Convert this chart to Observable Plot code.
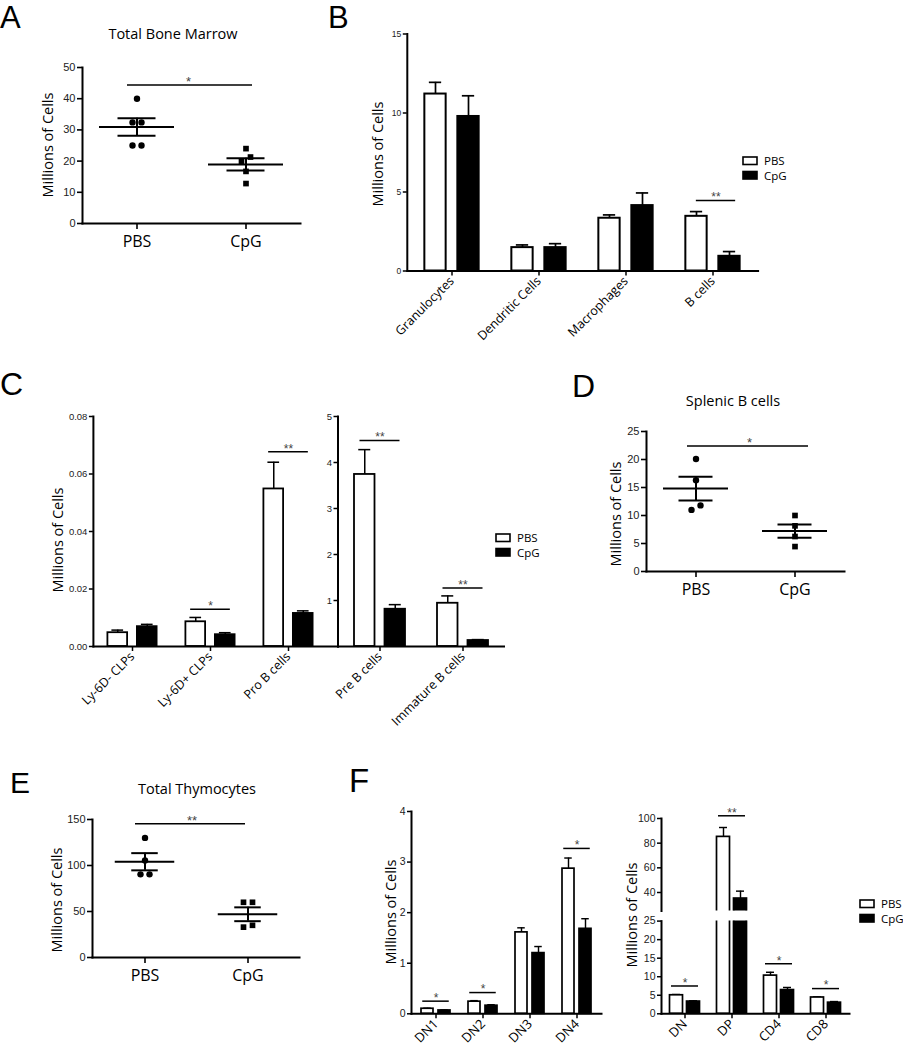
<!DOCTYPE html>
<html><head><meta charset="utf-8">
<script src="https://cdn.jsdelivr.net/npm/d3@7"></script>
<script src="https://cdn.jsdelivr.net/npm/@observablehq/plot@0.6"></script>
<style>
body{margin:0;background:#fff;}
#fig{position:relative;width:903px;height:1050px;overflow:hidden;background:#fff;}
#fig svg{position:absolute;}
</style></head><body><div id="fig"></div>
<script>
// ---------------- data ----------------
const groups = ["PBS", "CpG"];

// A: Total Bone Marrow (millions of cells)
const bmPBS = [40, 32.4, 32.4, 25, 25];
const bmCpG = [24, 21.3, 19.9, 16.7, 12.8];
const bmSig = 44.4;
const bmTicks = [0, 10, 20, 30, 40, 50];

// B: bone marrow populations
const bCats = ["Granulocytes", "Dendritic Cells", "Macrophages", "B cells"];
const bPbsMean = [11.2, 1.48, 3.34, 3.46];
const bPbsSem = [0.74, 0.17, 0.21, 0.30];
const bCpgMean = [9.78, 1.48, 4.14, 0.93];
const bCpgSem = [1.31, 0.25, 0.80, 0.30];
const bSigCats = ["B cells"];
const bSigY = [4.46];
const bSigLab = ["**"];
const bTicks = [0, 5, 10, 15];

// C: B-cell progenitors (left axis small, right axis large)
const cCatsL = ["Ly-6D- CLPs", "Ly-6D+ CLPs", "Pro B cells"];
const cPbsMeanL = [0.0048, 0.0086, 0.0548];
const cPbsSemL = [0.0009, 0.0015, 0.0093];
const cCpgMeanL = [0.0069, 0.0041, 0.0115];
const cCpgSemL = [0.0008, 0.0007, 0.0009];
const cSigCatsL = ["Ly-6D+ CLPs", "Pro B cells"];
const cSigYL = [0.013, 0.0677];
const cSigLabL = ["*", "**"];
const cTicksL = [0, 0.02, 0.04, 0.06, 0.08];
const cCatsR = ["Pre B cells", "Immature B cells"];
const cPbsMeanR = [3.74, 0.94];
const cPbsSemR = [0.54, 0.16];
const cCpgMeanR = [0.81, 0.13];
const cCpgSemR = [0.10, 0.02];
const cSigCatsR = ["Pre B cells", "Immature B cells"];
const cSigYR = [4.48, 1.27];
const cSigLabR = ["**", "**"];
const cTicksR = [1, 2, 3, 4, 5];

// D: Splenic B cells
const spPBS = [20.1, 16.3, 11.8, 11.0];
const spCpG = [10, 8.15, 6.25, 4.45];
const spSig = 22.4;
const spTicks = [0, 5, 10, 15, 20, 25];

// E: Total Thymocytes
const thPBS = [130, 105.5, 90.4, 90.4];
const thCpG = [60, 60, 35, 33];
const thSig = 145.3;
const thTicks = [0, 50, 100, 150];

// F: thymocyte subsets
const fCatsL = ["DN1", "DN2", "DN3", "DN4"];
const fPbsMeanL = [0.10, 0.24, 1.61, 2.87];
const fPbsSemL = [0.01, 0.02, 0.09, 0.21];
const fCpgMeanL = [0.066, 0.16, 1.20, 1.68];
const fCpgSemL = [0.01, 0.02, 0.13, 0.20];
const fSigCatsL = ["DN1", "DN2", "DN4"];
const fSigYL = [0.25, 0.42, 3.27];
const fSigLabL = ["*", "*", "*"];
const fTicksL = [0, 1, 2, 3, 4];
const fCatsR = ["DN", "DP", "CD4", "CD8"];
const fPbsMeanR = [5.0, 85.1, 10.3, 4.4];
const fPbsSemR = [0.2, 7.6, 0.9, 0.15];
const fCpgMeanR = [3.3, 35.1, 6.4, 3.0];
const fCpgSemR = [0.2, 6.0, 0.7, 0.3];
const fSigCatsR = ["DN", "DP", "CD4", "CD8"];
const fSigYR = [7.5, 102.2, 13.5, 6.8];
const fSigLabR = ["*", "**", "*", "*"];
const fTicksRLow = [0, 5, 10, 15, 20, 25];
const fTicksRHigh = [40, 60, 80, 100];
const fBreak = 25;

// ---------------- helpers ----------------
const fig = document.getElementById("fig");
const SANS = "'Liberation Sans', Arial, sans-serif";
const HUM = "'Open Sans', 'Noto Sans', sans-serif";
const AX = 2;
const intFmt = d3.format("d");
function place(svg, left, top) {
  svg.style.left = left + "px";
  svg.style.top = top + "px";
  fig.appendChild(svg);
}
const style = {background: "transparent", overflow: "visible", fontFamily: SANS, fontSize: "10px", color: "#000"};

function scatterPanel(c) {
  const pts = [];
  [[groups[0], c.pbs], [groups[1], c.cpg]].forEach(([g, vals]) => {
    const tol = c.ymax * 0.045;
    const sorted = vals.map(v => v).sort((a, b) => b - a);
    const clusters = [];
    sorted.forEach(v => {
      const cl = clusters[clusters.length - 1];
      if (cl && Math.abs(cl[cl.length - 1] - v) < tol) cl.push(v); else clusters.push([v]);
    });
    clusters.forEach(cl => cl.forEach((v, k) => pts.push({group: g, value: v, off: ((cl.length - 1) / 2 - k) * 9})));
  });
  const stats = [[groups[0], c.pbs], [groups[1], c.cpg]].map(([g, v]) => {
    const m = d3.mean(v), s = d3.deviation(v) / Math.sqrt(v.length);
    return {group: g, mean: m, lo: m - s, hi: m + s};
  });
  const step = (c.width - c.ml - c.mr) / 2;
  const offs = [...new Set(pts.map(d => d.off))];
  const dots = offs.flatMap(o => [
    Plot.dot(pts.filter(d => d.off === o && d.group === groups[0]), {x: "group", y: "value", dx: o, r: 3.2, fill: "#000", symbol: "circle"}),
    Plot.dot(pts.filter(d => d.off === o && d.group === groups[1]), {x: "group", y: "value", dx: o, r: 3.2, fill: "#000", symbol: "square"})
  ]);
  const svg = Plot.plot({
    width: c.width, height: c.height,
    marginLeft: c.ml, marginRight: c.mr, marginTop: c.mt, marginBottom: c.mb,
    style,
    x: {type: "band", domain: groups, padding: 0},
    y: {domain: [0, c.ymax]},
    marks: [
      Plot.frame({anchor: "left", stroke: "#000", strokeWidth: AX}),
      Plot.frame({anchor: "bottom", stroke: "#000", strokeWidth: AX}),
      Plot.axisY({ticks: c.ticks, tickFormat: intFmt, tickSize: 5, tickPadding: 2, fontSize: 11, fill: "#222", strokeWidth: 1.6, label: null}),
      Plot.axisX({tickSize: 6, tickPadding: 6, fontSize: 16, fontFamily: HUM, fill: "#000", strokeWidth: 1.6, label: null}),
      ...dots,
      Plot.tickY(stats, {x: "group", y: "mean", insetLeft: (step - c.meanW) / 2, insetRight: (step - c.meanW) / 2, stroke: "#000", strokeWidth: 2}),
      Plot.tickY(stats, {x: "group", y: "hi", insetLeft: (step - c.semW) / 2, insetRight: (step - c.semW) / 2, stroke: "#000", strokeWidth: 2}),
      Plot.tickY(stats, {x: "group", y: "lo", insetLeft: (step - c.semW) / 2, insetRight: (step - c.semW) / 2, stroke: "#000", strokeWidth: 2}),
      Plot.ruleX(stats, {x: "group", y1: "lo", y2: "hi", stroke: "#000", strokeWidth: 2}),
      Plot.ruleY([c.sig], {insetLeft: c.sigIL, insetRight: c.sigIR, stroke: "#000", strokeWidth: 1.6}),
      Plot.text([c.sigLab], {y: () => c.sig, text: d => d, dx: c.starDx, dy: -3, fontSize: 13, fill: "#444", fontFamily: SANS})
    ]
  });
  place(svg, c.left, c.top);
}

function barPanel(c) {
  const x0 = c.xrange ? c.xrange[0] : c.ml;
  const x1 = c.xrange ? c.xrange[1] : c.width - c.mr;
  const step = (x1 - x0) / c.cats.length;
  const pbs = c.cats.map((k, i) => ({cat: k, mean: c.pbsM[i], top: c.pbsM[i] + c.pbsE[i]}));
  const cpg = c.cats.map((k, i) => ({cat: k, mean: c.cpgM[i], top: c.cpgM[i] + c.cpgE[i]}));
  const sig = c.sigCats.map((k, i) => ({cat: k, y: c.sigY[i], label: c.sigLab[i]})).filter(c.keepSig || (() => true));
  const keep = c.keep || (() => true), keepErr = c.keepErr || (() => true);
  const bi = (step - c.barW) / 2, ci = (step - c.capW) / 2, si = (step - c.sigW) / 2;
  const bw = c.bw || 2;
  const marks = [];
  [[pbs, -c.off, "#fff"], [cpg, c.off, "#000"]].forEach(([rows, dx, fill]) => {
    const e = rows.filter(keepErr);
    marks.push(Plot.ruleX(e, {x: "cat", y1: "mean", y2: "top", dx, stroke: "#000", strokeWidth: bw * 0.85}));
    marks.push(Plot.tickY(e, {x: "cat", y: "top", dx, insetLeft: ci, insetRight: ci, stroke: "#000", strokeWidth: bw * 0.85}));
    marks.push(Plot.barY(rows.filter(keep), {x: "cat", y: "mean", dx, insetLeft: bi, insetRight: bi, fill, stroke: "#000", strokeWidth: bw, clip: !!c.clip}));
  });
  marks.push(Plot.tickY(sig, {x: "cat", y: "y", dx: c.sigDx || 0, insetLeft: si, insetRight: si, stroke: "#000", strokeWidth: 1.5}));
  marks.push(Plot.text(sig, {x: "cat", y: "y", text: "label", dx: c.sigDx || 0, dy: -3, fontSize: 12, fill: "#444", fontFamily: SANS}));
  marks.push(Plot.frame({anchor: "left", stroke: "#000", strokeWidth: AX}));
  marks.push(Plot.axisY({ticks: c.ticks, tickFormat: c.yfmt || intFmt, tickSize: 4, tickPadding: 2, fontSize: c.yFont, fill: "#222", strokeWidth: 1.5, label: null}));
  if (c.showX !== false) {
    marks.push(Plot.frame({anchor: "bottom", stroke: "#000", strokeWidth: AX}));
    marks.push(Plot.axisX({tickSize: 5, tickPadding: 3, tickRotate: -45, fontSize: c.xFont, fontFamily: HUM, fill: "#000", strokeWidth: 1.5, label: null}));
  }
  const svg = Plot.plot({
    width: c.width, height: c.height,
    marginLeft: c.ml, marginRight: c.mr, marginTop: c.mt, marginBottom: c.mb,
    style,
    x: {type: "band", domain: c.cats, padding: 0, range: [x0, x1], axis: c.showX === false ? null : undefined},
    y: {domain: c.ydomain},
    marks
  });
  place(svg, c.left, c.top);
}

// ---------------- panels ----------------
// A
scatterPanel({pbs: bmPBS, cpg: bmCpG, ymax: 50, ticks: bmTicks, sig: bmSig, sigLab: "*",
  left: 0, top: 0, width: 310, height: 270, ml: 82, mr: 10, mt: 67, mb: 47,
  meanW: 75, semW: 38, sigIL: 45, sigIR: 48, starDx: -3});
// D
scatterPanel({pbs: spPBS, cpg: spCpG, ymax: 25, ticks: spTicks, sig: spSig, sigLab: "*",
  left: 560, top: 370, width: 294, height: 250, ml: 86, mr: 10, mt: 61, mb: 49,
  meanW: 65, semW: 34, sigIL: 41, sigIR: 36, starDx: 4});
// E
scatterPanel({pbs: thPBS, cpg: thCpG, ymax: 150, ticks: thTicks, sig: thSig, sigLab: "**",
  left: 0, top: 750, width: 310, height: 260, ml: 92, mr: 11, mt: 69, mb: 53,
  meanW: 60, semW: 27, sigIL: 43, sigIR: 54, starDx: -4});

// B
barPanel({cats: bCats, pbsM: bPbsMean, pbsE: bPbsSem, cpgM: bCpgMean, cpgE: bCpgSem,
  sigCats: bSigCats, sigY: bSigY, sigLab: bSigLab, ydomain: [0, 15], ticks: bTicks,
  left: 330, top: 0, width: 440, height: 340, ml: 76.8, mr: 12.4, mt: 33.5, mb: 69.5,
  barW: 22, off: 16.5, capW: 13, sigW: 40, sigDx: 3, yFont: 8.5, xFont: 12.5});

// C left
barPanel({cats: cCatsL, pbsM: cPbsMeanL, pbsE: cPbsSemL, cpgM: cCpgMeanL, cpgE: cCpgSemL,
  sigCats: cSigCatsL, sigY: cSigYL, sigLab: cSigLabL, ydomain: [0, 0.08], ticks: cTicksL, yfmt: d3.format(".2f"),
  left: 0, top: 340, width: 340, height: 400, ml: 92.9, mr: 2.5, mt: 76, mb: 94, xrange: [92.9, 327.8],
  barW: 20, off: 14.75, capW: 12, sigW: 40, sigDx: 0, yFont: 9.5, xFont: 12.5, bw: 1.8});
// C right
barPanel({cats: cCatsR, pbsM: cPbsMeanR, pbsE: cPbsSemR, cpgM: cCpgMeanR, cpgE: cCpgSemR,
  sigCats: cSigCatsR, sigY: cSigYR, sigLab: cSigLabR, ydomain: [0, 5], ticks: cTicksR,
  left: 300, top: 340, width: 220, height: 400, ml: 37.5, mr: 16.5, mt: 76, mb: 94,
  barW: 20.5, off: 15.25, capW: 12, sigW: 40, sigDx: 0, yFont: 9.5, xFont: 12.5, bw: 1.8});

// F left
barPanel({cats: fCatsL, pbsM: fPbsMeanL, pbsE: fPbsSemL, cpgM: fCpgMeanL, cpgE: fCpgSemL,
  sigCats: fSigCatsL, sigY: fSigYL, sigLab: fSigLabL, ydomain: [0, 4], ticks: fTicksL,
  left: 350, top: 760, width: 260, height: 290, ml: 61, mr: 9, mt: 51, mb: 36.7,
  barW: 12.5, off: 8.5, capW: 8, sigW: 27, yFont: 10.5, xFont: 13, bw: 1.7});
// F right, lower segment
barPanel({cats: fCatsR, pbsM: fPbsMeanR, pbsE: fPbsSemR, cpgM: fCpgMeanR, cpgE: fCpgSemR,
  sigCats: fSigCatsR, sigY: fSigYR, sigLab: fSigLabR, ydomain: [0, fBreak], ticks: fTicksRLow,
  keepErr: d => d.top <= fBreak, keepSig: d => d.y <= fBreak, clip: true,
  left: 600, top: 900, width: 260, height: 150, ml: 61, mr: 11, mt: 20.6, mb: 36.7,
  barW: 13, off: 8.5, capW: 8, sigW: 27, yFont: 10.5, xFont: 13, bw: 1.7});
// F right, upper segment
barPanel({cats: fCatsR, pbsM: fPbsMeanR, pbsE: fPbsSemR, cpgM: fCpgMeanR, cpgE: fCpgSemR,
  sigCats: fSigCatsR, sigY: fSigYR, sigLab: fSigLabR, ydomain: [fBreak, 100], ticks: fTicksRHigh,
  keep: d => d.mean > fBreak, keepErr: d => d.top > fBreak, keepSig: d => d.y > fBreak, clip: true, showX: false,
  left: 600, top: 790, width: 260, height: 121, ml: 61, mr: 11, mt: 28, mb: 0.5,
  barW: 13, off: 8.5, capW: 8, sigW: 27, yFont: 10.5, xFont: 13, bw: 1.7});

// ---------------- overlay texts / legends ----------------
const ov = d3.create("svg").attr("width", 903).attr("height", 1050)
  .style("left", "0px").style("top", "0px").style("pointer-events", "none");
const letters = [["A", 0, 28, 31], ["B", 328, 28, 31], ["C", 0, 395, 32], ["D", 572, 397, 32], ["E", 10, 793, 30], ["F", 349, 792, 33]];
ov.selectAll("text.letter").data(letters).join("text").attr("class", "letter")
  .attr("x", d => d[1]).attr("y", d => d[2]).text(d => d[0])
  .attr("font-family", SANS).attr("font-size", d => d[3]).attr("fill", "#000");
const titles = [["Total Bone Marrow", 173, 39], ["Splenic B cells", 733, 406], ["Total Thymocytes", 197, 794]];
ov.selectAll("text.title").data(titles).join("text").attr("class", "title")
  .attr("x", d => d[1]).attr("y", d => d[2]).attr("text-anchor", "middle").text(d => d[0])
  .attr("font-family", HUM).attr("font-size", 14.5).attr("fill", "#000");
const ylabs = [[53, 145], [383, 154], [63, 540], [621, 514], [62, 900], [396, 912], [637, 915]];
ov.selectAll("text.ylab").data(ylabs).join("text").attr("class", "ylab")
  .attr("transform", d => `translate(${d[0]},${d[1]}) rotate(-90)`).attr("text-anchor", "middle")
  .text("Millions of Cells").attr("font-family", HUM).attr("font-size", 14.5).attr("fill", "#000");
const legends = [[743, 157], [496, 534], [860, 900]];
legends.forEach(([lx, ly]) => {
  groups.forEach((g, i) => {
    ov.append("rect").attr("x", lx).attr("y", ly + i * 14.5).attr("width", 14).attr("height", 7.5)
      .attr("fill", i === 0 ? "#fff" : "#000").attr("stroke", "#000").attr("stroke-width", 1.6);
    ov.append("text").attr("x", lx + 21).attr("y", ly + i * 14.5 + 8).text(g)
      .attr("font-family", HUM).attr("font-size", 11.5).attr("fill", "#000");
  });
});
fig.appendChild(ov.node());
</script></body></html>
